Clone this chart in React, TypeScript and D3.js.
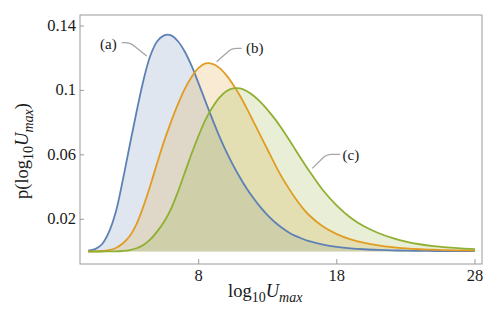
import * as d3 from "d3";
import React from "react";

// x grid (log10 Umax) shared by all three curves
const xs = [
  0, 0.5, 1, 1.5, 2, 2.5, 3, 3.5, 4, 4.5, 5, 5.5, 6, 6.5, 7, 7.5, 8, 8.5, 9, 9.5,
  10, 10.5, 11, 11.5, 12, 12.5, 13, 13.5, 14, 14.5, 15, 15.5, 16,
  17, 18, 19, 20, 21, 22, 23, 24, 25, 26, 27, 28,
];

// (a)
const seriesA = [
  0.0005, 0.0015, 0.0045, 0.012, 0.0245, 0.044, 0.0655, 0.0866, 0.1062, 0.1215,
  0.1305, 0.1342, 0.1342, 0.1305, 0.124, 0.115, 0.1042, 0.093, 0.082, 0.0715,
  0.062, 0.0535, 0.0458, 0.0388, 0.0327, 0.0272, 0.0224, 0.0183, 0.0149, 0.012,
  0.0097, 0.0079, 0.0064,
  0.0043, 0.0029, 0.002, 0.0014, 0.001, 0.0007, 0.0005, 0.0004, 0.0003, 0.0003, 0.0002, 0.0002,
];

// (b)
const seriesB = [
  0, 0.0001, 0.0003, 0.0008, 0.0022, 0.005, 0.0095, 0.017, 0.028, 0.041,
  0.055, 0.0685, 0.0805, 0.0915, 0.101, 0.1085, 0.114, 0.1167, 0.1165, 0.114,
  0.1095, 0.1035, 0.0965, 0.0885, 0.08, 0.0715, 0.063, 0.0545, 0.0465, 0.0395,
  0.033, 0.0272, 0.0225,
  0.0155, 0.0108, 0.0075, 0.0053, 0.0038, 0.0027, 0.0019, 0.0014, 0.0011, 0.0008, 0.0007, 0.0006,
];

// (c)
const seriesC = [
  0, 0, 0, 0.0001, 0.0001, 0.0003, 0.0008, 0.002, 0.004, 0.0075,
  0.0125, 0.0185, 0.0265, 0.037, 0.049, 0.061, 0.072, 0.0818, 0.0895, 0.0955,
  0.0995, 0.1013, 0.1012, 0.0995, 0.0965, 0.0925, 0.0878, 0.0825, 0.0765, 0.07,
  0.0632, 0.0565, 0.05,
  0.038, 0.0285, 0.021, 0.0155, 0.0115, 0.0085, 0.0062, 0.0045, 0.0033, 0.0025, 0.0019, 0.0015,
];

const seriesNames = ["(a)", "(b)", "(c)"];
const colors = ["#5E81B5", "#E19C24", "#8FB032"];

const xTicks = [8, 18, 28];
const yTicks = [0.02, 0.06, 0.1, 0.14];

// label anchor + leader line, in data units
const labelPos = [
  { tx: 0.86, ty: 0.126, lead: [[2.43, 0.1296], [3.03, 0.1296], [4.24, 0.1214]] },
  { tx: 11.42, ty: 0.1232, lead: [[11.11, 0.1261], [10.39, 0.1261], [9.3, 0.1178]] },
  { tx: 18.42, ty: 0.0568, lead: [[18.23, 0.0603], [17.27, 0.0603], [16.22, 0.0516]] },
];

const width = 498;
const height = 320;
const left = 80, right = 482, top = 15, bottom = 264;

export default function App() {
  const xScale = d3.scaleLinear().domain([-0.59, 28.51]).range([left, right]);
  const yScale = d3.scaleLinear().domain([-0.00776, 0.1468]).range([bottom, top]);

  const all = [seriesA, seriesB, seriesC];

  const area = d3
    .area<number>()
    .x((_, i) => xScale(xs[i]))
    .y0(yScale(0))
    .y1((d) => yScale(d))
    .curve(d3.curveCatmullRom);

  const line = d3
    .line<number>()
    .x((_, i) => xScale(xs[i]))
    .y((d) => yScale(d))
    .curve(d3.curveCatmullRom);

  const leader = (pts: number[][]) => {
    const p = pts.map(([a, b]) => [xScale(a), yScale(b)]);
    const [p0, p1, p2] = p;
    const dx = p2[0] - p1[0], dy = p2[1] - p1[1];
    const len = Math.hypot(dx, dy);
    const r = 5;
    const a = [p1[0] + (p0[0] > p1[0] ? r : -r), p1[1]];
    const b = [p1[0] + (dx / len) * r, p1[1] + (dy / len) * r];
    return `M${p0[0]},${p0[1]}L${a[0]},${a[1]}Q${p1[0]},${p1[1]} ${b[0]},${b[1]}L${p2[0]},${p2[1]}`;
  };

  const serif = "Liberation Serif";
  const ink = "#1a1a1a";

  return (
    <svg width={width} height={height} style={{ position: "absolute", left: 0, top: 0 }}>
      <rect width={width} height={height} fill="white" />
      {all.map((s, i) => (
        <path key={"f" + i} d={area(s) || undefined} fill={colors[i]} fillOpacity={0.2} stroke="none" />
      ))}
      {all.map((s, i) => (
        <path key={"l" + i} d={line(s) || undefined} fill="none" stroke={colors[i]} strokeWidth={1.8} />
      ))}

      <rect x={left} y={top} width={right - left} height={bottom - top} fill="none" stroke="#9a9a9a" strokeWidth={1} />

      {yTicks.map((t) => (
        <g key={"y" + t}>
          <line x1={left} x2={left + 4} y1={yScale(t)} y2={yScale(t)} stroke="#9a9a9a" />
          <text x={left - 4} y={yScale(t) + 5} textAnchor="end" fontFamily={serif} fontSize={16.5} fill={ink}>
            {t}
          </text>
        </g>
      ))}
      {xTicks.map((t) => (
        <g key={"x" + t}>
          <line x1={xScale(t)} x2={xScale(t)} y1={bottom} y2={bottom - 5} stroke="#9a9a9a" />
          <text x={xScale(t)} y={bottom + 16.7} textAnchor="middle" fontFamily={serif} fontSize={16.5} fill={ink}>
            {t}
          </text>
        </g>
      ))}

      {labelPos.map((l, i) => (
        <g key={"lab" + i}>
          <path d={leader(l.lead)} fill="none" stroke="#a6a6a6" strokeWidth={1.3} />
          <text x={xScale(l.tx)} y={yScale(l.ty)} fontFamily={serif} fontSize={15} fill={ink}>
            {seriesNames[i]}
          </text>
        </g>
      ))}

      <text x={228} y={297} fontFamily={serif} fontSize={18.5} fill={ink}>
        log
        <tspan fontSize={14} dy={5}>10</tspan>
        <tspan fontStyle="italic" dy={-5}>U</tspan>
        <tspan fontStyle="italic" fontSize={14} dy={5}>max</tspan>
      </text>

      <text
        transform="translate(28,151) rotate(-90)"
        textAnchor="middle"
        fontFamily={serif}
        fontSize={18.5}
        fill={ink}
      >
        p(log
        <tspan fontSize={14} dy={5}>10</tspan>
        <tspan fontStyle="italic" dy={-5}>U</tspan>
        <tspan fontStyle="italic" fontSize={14} dy={5}>max</tspan>
        <tspan dy={-5}>)</tspan>
      </text>
    </svg>
  );
}
